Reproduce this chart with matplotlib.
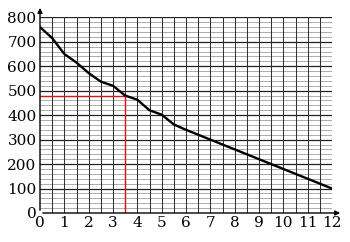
import matplotlib
matplotlib.use("Agg")
import matplotlib.pyplot as plt
import numpy as np

x_vals = [0, 0.5, 1, 1.5, 2, 2.5, 3, 3.5, 4, 4.5, 5, 5.5, 6, 7, 8, 9, 10, 11, 12]
y_vals = [760, 715, 650, 615, 572, 537, 520, 480, 463, 420, 402, 362, 340, 300, 260, 220, 180, 140, 100]
x_ticks = list(range(0, 13))
y_ticks = list(range(0, 801, 100))
mark_x = 3.5
mark_y = 480

plt.rcParams['font.family'] = ['DejaVu Serif']
fig = plt.figure(figsize=(3.5, 2.42), dpi=100)
ax = fig.add_axes([40/350, 1-213/242, 292/350, (213-17.3)/242])
ax.set_xlim(0, 12)
ax.set_ylim(0, 800)

# grid
for yv in np.arange(20, 800, 20):
    if yv % 100 == 0:
        ax.axhline(yv, color='#222222', lw=0.9, zorder=1)
    else:
        ax.axhline(yv, color='#a0a0a0', lw=0.6, zorder=1)
ax.axhline(800, color='#222222', lw=0.9, zorder=1)
for xv in np.arange(0.5, 12.01, 0.5):
    ax.axvline(xv, color='#333333', lw=0.75, zorder=1)

ax.plot(x_vals, y_vals, color='black', lw=1.7, zorder=3)
ax.plot([0, mark_x], [mark_y, mark_y], color='#e01010', lw=1.0, zorder=2)
ax.plot([mark_x, mark_x], [0, mark_y], color='#e01010', lw=1.0, zorder=2)

for s in ax.spines.values():
    s.set_visible(False)

# axes with arrows
ax.annotate('', xy=(12.45, 0), xytext=(0, 0), xycoords='data',
            arrowprops=dict(arrowstyle='-|>', color='black', lw=1.0, mutation_scale=7),
            annotation_clip=False, zorder=4)
ax.annotate('', xy=(0, 850), xytext=(0, 0), xycoords='data',
            arrowprops=dict(arrowstyle='-|>', color='black', lw=1.0, mutation_scale=7),
            annotation_clip=False, zorder=4)

ax.set_xticks(x_ticks)
ax.set_yticks(y_ticks)
ax.set_xticklabels([str(v) for v in x_ticks], fontsize=11)
ax.set_yticklabels([str(v) for v in y_ticks], fontsize=11)
ax.tick_params(length=0, pad=2.5)

fig.savefig('out.png', dpi=100)
